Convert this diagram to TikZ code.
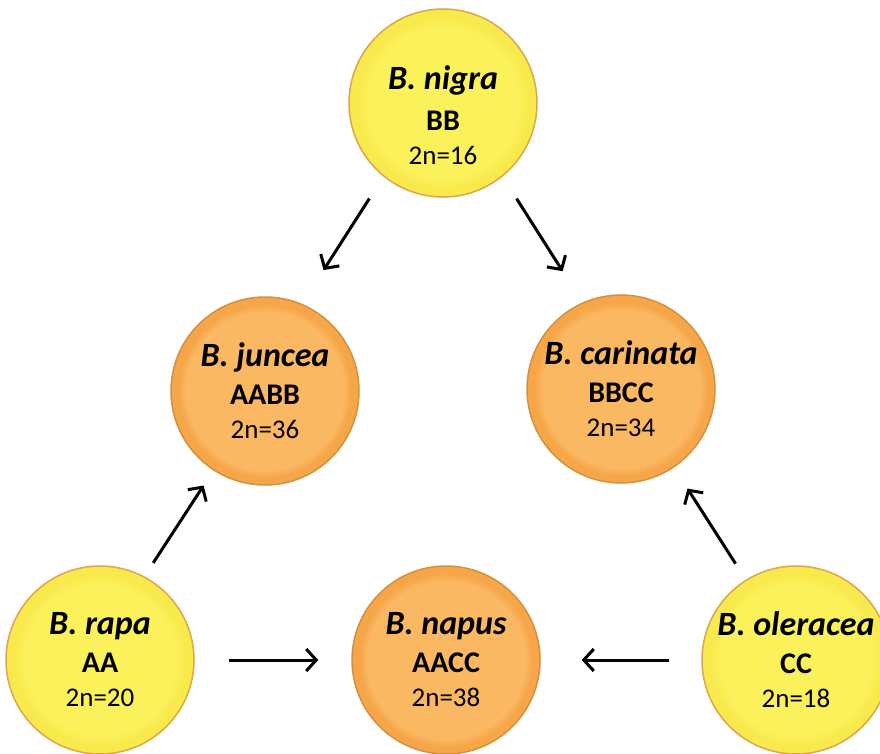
\documentclass[tikz,border=0pt]{standalone}
\usepackage{fontspec}
\setmainfont{Carlito}
\usepackage{tikz}
\usetikzlibrary{arrows.meta,positioning}
\definecolor{ylwIn}{HTML}{FBF15A}
\definecolor{ylwOut}{HTML}{F8E94C}
\definecolor{ylwLine}{HTML}{DDA64A}
\definecolor{orgIn}{HTML}{FBB862}
\definecolor{orgOut}{HTML}{F6A649}
\definecolor{orgLine}{HTML}{D2913E}
\pgfdeclareradialshading{yellowball}{\pgfpoint{0bp}{0bp}}{color(0bp)=(ylwIn); color(20bp)=(ylwIn); color(23bp)=(ylwOut); color(25bp)=(ylwOut); color(50bp)=(ylwOut)}
\pgfdeclareradialshading{orangeball}{\pgfpoint{0bp}{0bp}}{color(0bp)=(orgIn); color(21bp)=(orgIn); color(23bp)=(orgOut); color(25bp)=(orgOut); color(50bp)=(orgOut)}
\newcommand{\spc}[3]{{\fontsize{34}{38}\selectfont\bfseries\itshape #1}\\[4pt]{\bfseries #2}\\{\fontsize{27}{33}\selectfont #3}}
\tikzset{
	species/.style={circle,minimum size=188pt,inner sep=0pt,line width=1.5pt,shade,align=center,
		font=\fontsize{30}{34}\selectfont},
	diploid/.style={species,draw=ylwLine,shading=yellowball},
	hybrid/.style={species,draw=orgLine,shading=orangeball},
	on grid}

\begin{document}
\begin{tikzpicture}[x=1pt,y=-1pt,-{Straight Barb[length=10pt,width=22pt]},line width=3pt]

		\clip (0,0) rectangle (880,754);

		\node[diploid] (nigra) at (443,103) {\spc{\rule{0pt}{48pt}B. nigra}{\rule{0pt}{30pt}BB}{2n=16}};
		\node[hybrid][below left=288pt and 178pt of nigra] (juncea) {\spc{B. juncea}{AABB}{2n=36}};
		\node[hybrid][below right=286pt and 178pt of nigra] (carinata) {\spc{B. carinata}{BBCC}{2n=34}};
		\node[hybrid][below right=269pt and 181pt of juncea] (napus) {\spc{B. napus}{AACC}{2n=38}};
		\node[diploid][left=346pt of napus] (rapa) {\spc{B. rapa}{AA}{2n=20}};
		\node[diploid][right=350pt of napus] (oleracea) {\spc{B. oleracea}{CC}{2n=18}};

		% genome donors
		\draw[shorten <=26pt,shorten >=40pt] (nigra.231) -- (juncea.67);
		\draw[shorten <=26pt,shorten >=37pt] (nigra.309) -- (carinata.114);
		\draw[shorten <=16pt,shorten >=18pt] (rapa.62) -- (juncea.237);
		\draw[shorten <=19pt,shorten >=25pt] (oleracea.122) -- (carinata.304);
		\draw[shorten <=34pt,shorten >=33pt] (rapa.east) -- (napus.west);
		\draw[shorten <=32pt,shorten >=41pt] (oleracea.west) -- (napus.east);

\end{tikzpicture}
\end{document}
